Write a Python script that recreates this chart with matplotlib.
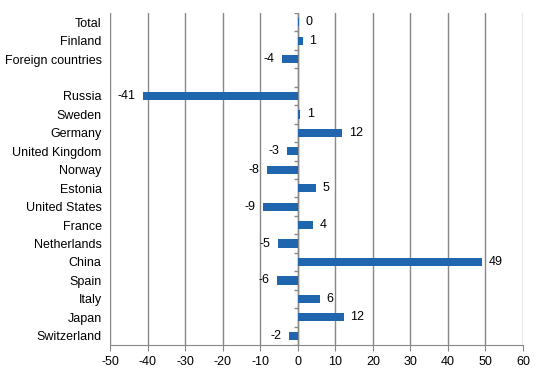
import matplotlib
matplotlib.use("Agg")
import matplotlib.pyplot as plt
import numpy as np

categories = ["Total", "Finland", "Foreign countries", "", "Russia", "Sweden", "Germany",
              "United Kingdom", "Norway", "Estonia", "United States", "France",
              "Netherlands", "China", "Spain", "Italy", "Japan", "Switzerland"]
values = [0.3, 1.3, -4.2, None, -41.2, 0.6, 11.8, -2.8, -8.1, 4.9, -9.2, 4.0,
          -5.2, 49.1, -5.6, 5.8, 12.2, -2.2]
labels = ["0", "1", "-4", "", "-41", "1", "12", "-3", "-8", "5", "-9", "4",
          "-5", "49", "-6", "6", "12", "-2"]
xticks = list(range(-50, 61, 10))

plt.rcParams['font.family'] = ['Liberation Sans', 'DejaVu Sans']
fig = plt.figure(figsize=(5.44, 3.74), dpi=100)
ax = fig.add_axes([110/544, 29/374, (523-110)/544, (345-13)/374])

n = len(categories)
y = np.arange(n)
color = "#1F66AE"
for yi, v, lab in zip(y, values, labels):
    if v is None:
        continue
    ax.barh(yi, v, height=0.45, color=color, zorder=3)
    if v >= 0:
        ax.text(v + 1.8, yi, lab, va="center", ha="left", fontsize=9, zorder=4)
    else:
        ax.text(v - 2.0, yi, lab, va="center", ha="right", fontsize=9, zorder=4)

ax.set_xlim(-50, 60)
ax.set_ylim(n - 0.5, -0.5)
ax.set_xticks(xticks)
ax.set_xticklabels([str(t) for t in xticks], fontsize=9)
ax.set_yticks(y)
ax.set_yticklabels(categories, fontsize=9)
ax.tick_params(axis="y", length=0, pad=6)
ax.tick_params(axis="x", length=4, color="#888888", pad=4)

for t in xticks:
    ax.axvline(t, color="#888888", lw=1, zorder=1)
ax.axvline(0, color="#888888", lw=1, zorder=2)
for b in np.arange(n + 1) - 0.5:
    ax.plot([-1.1, 0], [b, b], color="#888888", lw=1, zorder=2, solid_capstyle="butt")

for s in ["top", "right", "left"]:
    ax.spines[s].set_visible(False)
ax.spines["bottom"].set_color("#888888")

fig.savefig("out.png", dpi=100)
